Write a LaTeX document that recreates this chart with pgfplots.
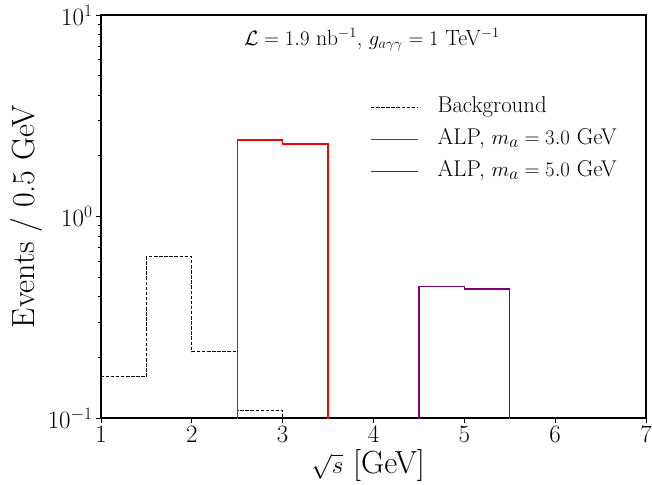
\documentclass[border=0pt]{standalone}
\usepackage{pgfplots}
\pgfplotsset{compat=1.18}
\definecolor{mplpurple}{RGB}{128,0,128}
\definecolor{mplred}{RGB}{255,0,0}
\begin{document}
\begin{tikzpicture}
\begin{axis}[
  name=ax,
  scale only axis,
  width=545pt, height=403pt,
  xmin=1, xmax=7, ymin=0.1, ymax=10,
  ymode=log,
  axis line style={black, line width=1.1pt},
  tick align=outside,
  xtick pos=bottom, ytick pos=left,
  major tick length=5pt, minor tick length=3pt,
  major tick style={black, line width=0.9pt},
  minor tick style={black, line width=0.7pt},
  xtick={1,2,3,4,5,6,7},
  tick label style={font=\fontsize{25}{30}\selectfont},
  xlabel={$\sqrt{s}$ [GeV]},
  ylabel={Events / 0.5 GeV},
  label style={font=\fontsize{32}{37}\selectfont},
  xlabel style={at={(axis description cs:0.49,-0.137)}, anchor=base},
  ylabel style={at={(axis description cs:-0.1358,0.5)}, anchor=center},
  legend style={draw=none, fill=none, inner sep=0pt,
    at={(axis description cs:0.4936,0.799)}, anchor=north west,
    font=\fontsize{22.8}{27}\selectfont, row sep=10pt,
    nodes={inner sep=0pt, text height=16.5pt, text depth=5.5pt},
    /tikz/every odd column/.append style={column sep=19pt}},
  legend cell align=left,
  legend image code/.code={
    \draw[#1] (0pt,0pt) -- (47pt,0pt);
  },
  clip=true,
]
\addplot[const plot, draw=black, line width=1pt, dash pattern=on 3.5pt off 1.6pt]
  coordinates {(1,0.001) (1,0.16) (1.5,0.63) (2,0.213) (2.5,0.109) (3,0.001) (7,0.001)};
\addlegendentry{Background}
\addplot[const plot, draw=mplred, color=mplred, line width=1.4pt]
  coordinates {(2.5,0.001) (2.5,2.40) (3,2.29) (3.5,0.001)};
\addlegendentry{ALP, $m_a = 3.0$ GeV}
\addplot[const plot, draw=mplpurple, color=mplpurple, line width=1.4pt]
  coordinates {(4.5,0.001) (4.5,0.449) (5,0.437) (5.5,0.001)};
\addlegendentry{ALP, $m_a = 5.0$ GeV}
\node[font=\fontsize{22}{26}\selectfont] at (axis description cs:0.497,0.938)
  {$\mathcal{L} = 1.9$ nb$^{-1}$, $g_{a\gamma\gamma} = 1$ TeV$^{-1}$};
\end{axis}
\pgfresetboundingbox
\path[use as bounding box] ([xshift=-101pt,yshift=-66pt]ax.south west) rectangle ([xshift=6pt,yshift=15pt]ax.north east);
\end{tikzpicture}
\end{document}
